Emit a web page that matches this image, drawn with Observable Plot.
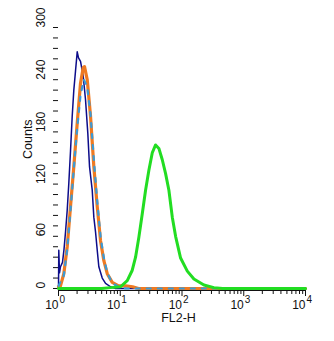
<!DOCTYPE html>
<html>
<head>
<meta charset="utf-8">
<script src="https://cdn.jsdelivr.net/npm/d3@7"></script>
<script src="https://cdn.jsdelivr.net/npm/@observablehq/plot@0.6"></script>
<style>
  html, body { margin: 0; padding: 0; background: #fff; }
  #chart svg { display: block; }
</style>
</head>
<body>
<div id="chart"></div>
<script>
// ---- data (FL2-H channel value, counts) ----
const navyFL2 = [1.0, 1.011, 1.038, 1.077, 1.161, 1.228, 1.299, 1.384, 1.469, 1.565, 1.667, 1.770, 1.886, 2.010, 2.110, 2.273, 2.514, 2.739, 2.986, 3.180, 3.517, 3.734, 3.978, 4.239, 4.500, 5.109, 5.778, 6.964, 8.391, 10000];
const navyCounts = [0, 44, 18, 25, 30, 45, 65, 90, 121, 158, 198, 228, 250, 272, 265, 261, 244, 217, 178, 140, 113, 82, 65, 44, 25, 12, 6, 2, 0, 0];

const orangeFL2 = [1.0, 1.077, 1.219, 1.384, 1.565, 1.770, 2.010, 2.273, 2.514, 2.639, 2.919, 3.302, 3.734, 4.239, 4.794, 5.424, 6.156, 7.420, 9.385, 12.19, 15.83, 19.80, 10000];
const orangeCounts = [2, 3, 17, 48, 94, 140, 190, 236, 254, 255, 240, 198, 140, 94, 55, 32, 17, 7, 3, 3, 2, 0, 0];

const lightBlueFL2 = [1.0, 1.219, 1.384, 1.565, 1.770, 2.010, 2.273, 2.570, 2.919, 3.302, 3.734, 4.239, 4.794, 5.424, 6.156, 7.420, 9.385, 12.19, 10000];
const lightBlueCounts = [3, 15, 45, 90, 138, 185, 222, 240, 232, 200, 148, 100, 60, 35, 18, 6, 2, 0, 0];

const greenFL2 = [1.0, 5.0, 6.964, 10.11, 12.99, 15.65, 17.70, 20.02, 22.73, 25.70, 29.08, 33.02, 37.34, 42.23, 47.94, 54.24, 61.35, 69.64, 78.77, 94.9, 121.9, 155.9, 226.5, 328.9, 455, 10000];
const greenCounts = [0, 0, 1, 2, 9, 21, 36, 59, 86, 113, 136, 156, 165, 161, 148, 132, 113, 82, 60, 35, 20, 11, 4, 1, 0, 0];

// ---- axes ----
const yTickLabels = [0, 60, 120, 180, 240, 300];
const yMinorTicks = d3.range(0, 301, 12);
const xExponents = [0, 1, 2, 3, 4];
const xMajorTicks = xExponents.map(e => 10 ** e);
const xMinorTicks = [];
for (let e = 0; e < 4; e++) for (let m = 2; m <= 9; m++) xMinorTicks.push(m * 10 ** e);
const xTitle = "FL2-H";
const yTitle = "Counts";
const yBottom = -2.3;

const ink = "#111";

const chart = Plot.plot({
  width: 334,
  height: 341,
  marginLeft: 58,
  marginRight: 29,
  marginTop: 27,
  marginBottom: 51,
  style: { fontFamily: "'Liberation Sans', Arial, sans-serif", background: "#fff", color: ink },
  x: { type: "log", domain: [1, 10000], axis: null },
  y: { domain: [yBottom, 300], axis: null },
  marks: [
    // y axis ticks (no axis line)
    Plot.axisY(yMinorTicks, { anchor: "left", tickSize: 5, tickFormat: () => "", label: null, stroke: ink }),
    Plot.text(yTickLabels, { y: d => d, text: d => String(d), frameAnchor: "left", dx: -17, rotate: -90, fontSize: 12, fill: ink }),
    Plot.text([yTitle], { frameAnchor: "left", dx: -31, rotate: -90, fontSize: 12.5, fill: ink }),
    // x axis
    Plot.ruleY([yBottom], { stroke: ink, strokeWidth: 1 }),
    Plot.axisX(xMinorTicks, { anchor: "bottom", tickSize: 4, tickFormat: () => "", label: null, stroke: ink }),
    Plot.axisX(xMajorTicks, { anchor: "bottom", tickSize: 6, tickFormat: () => "", label: null, stroke: ink }),
    Plot.text(xMajorTicks, { x: d => d, text: () => "10", frameAnchor: "bottom", textAnchor: "end", lineAnchor: "bottom", dy: 18, fontSize: 12, fill: ink }),
    Plot.text(xMajorTicks, { x: d => d, text: (d, i) => String(xExponents[i]), frameAnchor: "bottom", textAnchor: "start", lineAnchor: "bottom", dy: 12, dx: 1, fontSize: 10, fill: ink }),
    Plot.text([xTitle], { frameAnchor: "bottom", lineAnchor: "bottom", dy: 31, dx: -3.5, fontSize: 12.5, fill: ink }),
    // histograms
    Plot.line(navyCounts, { x: navyFL2, y: navyCounts, stroke: "#0c0c8a", strokeWidth: 1.5 }),
    Plot.line(orangeCounts, { x: orangeFL2, y: orangeCounts, stroke: "#ee7a22", strokeWidth: 3.2 }),
    Plot.line(lightBlueCounts, { x: lightBlueFL2, y: lightBlueCounts, stroke: "#3a9ad6", strokeWidth: 2.2, strokeDasharray: "4,7" }),
    Plot.line(greenCounts, { x: greenFL2, y: greenCounts, stroke: "#22dd22", strokeWidth: 3 })
  ]
});

document.getElementById("chart").appendChild(chart);
</script>
</body>
</html>
